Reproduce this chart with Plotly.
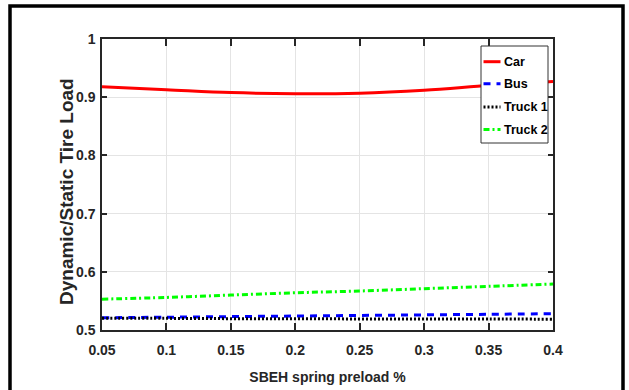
import plotly.graph_objects as go

# ---- data ----
preload = [0.05, 0.10, 0.15, 0.20, 0.25, 0.30, 0.35, 0.40]
car = [0.918, 0.913, 0.908, 0.906, 0.907, 0.912, 0.920, 0.927]
bus = [0.521, 0.522, 0.523, 0.524, 0.525, 0.526, 0.527, 0.528]
truck1 = [0.520, 0.520, 0.5195, 0.5195, 0.519, 0.519, 0.519, 0.5185]
truck2 = [0.553, 0.556, 0.560, 0.564, 0.567, 0.571, 0.575, 0.579]
series_names = ["Car", "Bus", "Truck 1", "Truck 2"]
x_ticks = [0.05, 0.1, 0.15, 0.2, 0.25, 0.3, 0.35, 0.4]
x_tick_text = ["0.05", "0.1", "0.15", "0.2", "0.25", "0.3", "0.35", "0.4"]
y_ticks = [0.5, 0.6, 0.7, 0.8, 0.9, 1.0]
y_tick_text = ["0.5", "0.6", "0.7", "0.8", "0.9", "1"]
x_title = "SBEH spring preload %"
y_title = "Dynamic/Static Tire Load"

FONT = "Liberation Sans, Arial, Helvetica, sans-serif"
TXT = "#262626"
W, H = 629, 390
ML, MR, MT, MB = 102, 76, 39, 60
PW, PH = W - ML - MR, H - MT - MB


def px(xp):
    return (xp - ML) / PW


def py(yp):
    return (H - MB - yp) / PH


styles = [
    dict(color="#ff0000", width=3, dash="solid"),
    dict(color="#0000ff", width=3, dash="7px,6px"),
    dict(color="#000000", width=3, dash="2px,2px"),
    dict(color="#00ff00", width=3, dash="6px,3px,2px,3px"),
]
data = [car, bus, truck1, truck2]

fig = go.Figure()
for name, ys, st in zip(series_names, data, styles):
    fig.add_trace(go.Scatter(x=preload, y=ys, mode="lines", name=name,
                             line=dict(color=st["color"], width=st["width"], dash=st["dash"], shape="spline"),
                             showlegend=False))

tickfont = dict(family=FONT, size=14, color=TXT, weight="bold")
fig.update_layout(
    width=W, height=H,
    margin=dict(l=ML, r=MR, t=MT, b=MB, autoexpand=False),
    paper_bgcolor="white", plot_bgcolor="white",
    font=dict(family=FONT, size=14, color=TXT),
    xaxis=dict(range=[0.05, 0.4], tickvals=x_ticks, ticktext=x_tick_text,
               showgrid=True, gridcolor="#e4e4e4", gridwidth=1,
               showline=True, linecolor=TXT, linewidth=1.5, mirror="ticks",
               ticks="inside", ticklen=7, tickcolor=TXT, tickwidth=1.5,
               tickfont=tickfont, ticklabelstandoff=6, zeroline=False, automargin=False,
               title=dict(text=x_title, standoff=16,
                          font=dict(family=FONT, size=14, color=TXT, weight="bold"))),
    yaxis=dict(range=[0.5, 1.0], tickvals=y_ticks, ticktext=y_tick_text,
               showgrid=True, gridcolor="#e4e4e4", gridwidth=1,
               showline=True, linecolor=TXT, linewidth=1.5, mirror="ticks",
               ticks="inside", ticklen=5, tickcolor=TXT, tickwidth=1.5,
               tickfont=tickfont, ticklabelstandoff=2, zeroline=False, automargin=False),
)

# y-axis title (placed as in the original, slightly below the plot centre)
fig.add_annotation(xref="paper", yref="paper", x=px(66), y=py(192),
                   text=y_title, showarrow=False, textangle=-90,
                   xanchor="center", yanchor="middle",
                   font=dict(family=FONT, size=19, color=TXT, weight="bold"))

# outer figure frame
fig.add_shape(type="rect", xref="paper", yref="paper",
              x0=px(10), x1=px(623), y0=py(396), y1=py(6),
              line=dict(color="black", width=3.5), fillcolor="rgba(0,0,0,0)", layer="above")

# legend box (compact, like the original)
lx0, lx1, ly0, ly1 = 481, 548, 46, 143
fig.add_shape(type="rect", xref="paper", yref="paper",
              x0=px(lx0), x1=px(lx1), y0=py(ly1), y1=py(ly0),
              line=dict(color="#333333", width=1), fillcolor="white", layer="above")
entry_y = [61.7, 83.8, 107.0, 129.5]
for name, st, ey in zip(series_names, styles, entry_y):
    fig.add_shape(type="line", xref="paper", yref="paper",
                  x0=px(483.5), x1=px(500.5), y0=py(ey), y1=py(ey),
                  line=dict(color=st["color"], width=st["width"], dash=st["dash"]), layer="above")
    fig.add_annotation(xref="paper", yref="paper", x=px(501.5), y=py(ey),
                       text=name, showarrow=False, xanchor="left", yanchor="middle",
                       font=dict(family=FONT, size=12.5, color="black", weight="bold"))

fig.write_html("out.html")
